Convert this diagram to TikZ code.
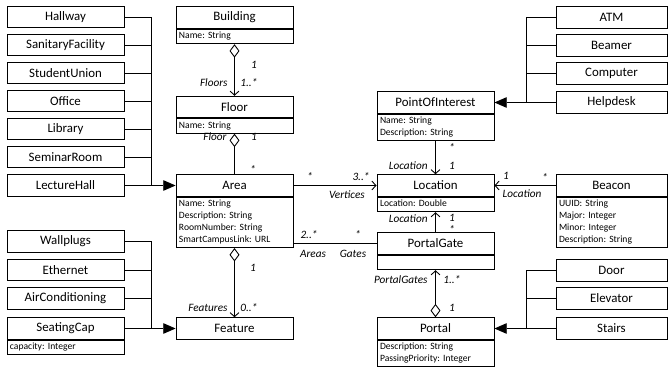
\documentclass[tikz,border=0pt]{standalone}
\usepackage{fontspec}
\setmainfont{Carlito}
\usetikzlibrary{positioning}
\usetikzlibrary{arrows.meta}
\frenchspacing

\begin{document}
\begin{tikzpicture}
  [x=0.03cm,y=-0.03cm,line width=0.75pt,
  cls/.style={draw,minimum width=3.51cm,minimum height=0.645cm,inner sep=0pt,font=\fontsize{11}{12}\selectfont},
  rcls/.style={cls,minimum width=3.33cm},
  attr/.style={draw,text width=#1,inner xsep=0.09cm,inner ysep=0.04cm,align=left,font=\fontsize{8.2}{10.2}\selectfont,execute at begin node=\strut,execute at end node=\strut},
  attr/.default=3.33cm,
  lbl/.style={font=\fontsize{9.6}{10}\selectfont\itshape,inner sep=0pt},
  gen/.style={-{Triangle[length=10.5pt,width=9pt]}},
  nav/.style={-{Straight Barb[length=3.5pt,width=7.5pt]}},
  agg/.style={{Diamond[open,length=11.5pt,width=8.5pt]}-},
  aggnav/.style={{Diamond[open,length=11.5pt,width=8.5pt]}-{Straight Barb[length=3.5pt,width=7.5pt]}}]
  \useasboundingbox (0,0) rectangle (669,369);

  \node[cls] (hallway) at (65.5,17) {Hallway};
  \node[cls] (sanitary) at (65.5,45) {SanitaryFacility};
  \node[cls] (studentunion) at (65.5,73) {StudentUnion};
  \node[cls] (office) at (65.5,101) {Office};
  \node[cls] (library) at (65.5,129) {Library};
  \node[cls] (seminar) at (65.5,157) {SeminarRoom};
  \node[cls] (lecture) at (65.5,185.5) {LectureHall};

  \node[cls] (wallplugs) at (65.5,241.5) {Wallplugs};
  \node[cls] (ethernet) at (65.5,270) {Ethernet};
  \node[cls] (aircon) at (65.5,298.5) {AirConditioning};
  \node[cls] (seating) at (65.5,328.5) {SeatingCap};
  \node[attr,below=0pt of seating] (seatingattr) {capacity: Integer};

  \node[cls] (building) at (234.5,17.5) {Building};
  \node[attr,below=0pt of building] (buildingattr) {Name: String};
  \node[cls] (floor) at (234.5,107) {Floor};
  \node[attr,below=0pt of floor] (floorattr) {Name: String};
  \node[cls] (area) at (234.5,185.5) {Area};
  \node[attr,below=0pt of area] (areaattr) {Name: String\\Description: String\\RoomNumber: String\\SmartCampusLink: URL};
  \node[cls] (feature) at (234.5,328.5) {Feature};

  \node[cls] (poi) at (435.5,102.5) {PointOfInterest};
  \node[attr,below=0pt of poi] (poiattr) {Name: String\\Description: String};
  \node[cls] (location) at (435.5,185.5) {Location};
  \node[attr,below=0pt of location] (locationattr) {Location: Double};
  \node[cls] (portalgate) at (435.5,243.5) {PortalGate};
  \node[attr,below=0pt of portalgate] (portalgateattr) {};
  \node[cls] (portal) at (435.5,328.5) {Portal};
  \node[attr,below=0pt of portal] (portalattr) {Description: String\\PassingPriority: Integer};

  \node[rcls] (atm) at (611.5,17.5) {ATM};
  \node[rcls] (beamer) at (611.5,45.5) {Beamer};
  \node[rcls] (computer) at (611.5,73.5) {Computer};
  \node[rcls] (helpdesk) at (611.5,102.5) {Helpdesk};
  \node[rcls] (beacon) at (611.5,185.5) {Beacon};
  \node[attr=3.15cm,below=0pt of beacon] (beaconattr) {UUID: String\\Major: Integer\\Minor: Integer\\Description: String};
  \node[rcls] (door) at (611.5,270.5) {Door};
  \node[rcls] (elevator) at (611.5,298.5) {Elevator};
  \node[rcls] (stairs) at (611.5,328.5) {Stairs};

  \coordinate (roombus) at (151,185.5);
  \coordinate (featurebus) at (151,328.5);
  \coordinate (poibus) at (526,102.5);
  \coordinate (portalbus) at (526,328.5);

  \draw (hallway.east) -| (roombus);
  \draw (sanitary.east) -| (roombus);
  \draw (studentunion.east) -| (roombus);
  \draw (office.east) -| (roombus);
  \draw (library.east) -| (roombus);
  \draw (seminar.east) -| (roombus);
  \draw (lecture.east) -- (roombus);
  \draw[gen] (roombus) -- (area.west);

  \draw (wallplugs.east) -| (featurebus);
  \draw (ethernet.east) -| (featurebus);
  \draw (aircon.east) -| (featurebus);
  \draw (seating.east) -- (featurebus);
  \draw[gen] (featurebus) -- (feature.west);

  \draw (atm.west) -| (poibus);
  \draw (beamer.west) -| (poibus);
  \draw (computer.west) -| (poibus);
  \draw (helpdesk.west) -- (poibus);
  \draw[gen] (poibus) -- (poi.east);

  \draw (door.west) -| (portalbus);
  \draw (elevator.west) -| (portalbus);
  \draw (stairs.west) -- (portalbus);
  \draw[gen] (portalbus) -- (portal.east);

  \draw[aggnav] (buildingattr.south) -- (floor.north);
  \draw[agg] (floorattr.south) -- (area.north);
  \draw[aggnav] (areaattr.south) -- (feature.north);
  \draw[nav] (area.east) -- (location.west);
  \draw (areaattr.east |- portalgate.west) -- (portalgate.west);
  \draw[nav] (poiattr.south) -- (location.north);
  \draw[nav] (portalgate.north) -- (locationattr.south);
  \draw[aggnav] (portal.north) -- (portalgateattr.south);
  \draw[nav] (beacon.west) -- (location.east);

  \node[lbl] (bfone) at (254,65) {1};
  \node[lbl,anchor=east] (bfrole) at (228,83) {Floors};
  \node[lbl,anchor=west] (bfmany) at (240,83) {1..*};
  \node[lbl,anchor=east] (farole) at (227,137) {Floor};
  \node[lbl] (faone) at (254,137) {1};
  \node[lbl] (famany) at (253,170) {*};
  \node[lbl] (afone) at (253,268) {1};
  \node[lbl,anchor=east] (afrole) at (228,308) {Features};
  \node[lbl,anchor=west] (afmany) at (240,308) {0..*};

  \node[lbl] (almany) at (310,177) {*};
  \node[lbl] (alvert) at (361,177) {3..*};
  \node[lbl] (alrole) at (347,195) {Vertices};
  \node[lbl] (agmany) at (309,235) {2..*};
  \node[lbl] (aggmany) at (358,235) {*};
  \node[lbl] (agareas) at (313,254) {Areas};
  \node[lbl] (aggates) at (353,254) {Gates};

  \node[lbl] (plmany) at (452,148) {*};
  \node[lbl,anchor=east] (plrole) at (428,166) {Location};
  \node[lbl] (plone) at (452,166) {1};
  \node[lbl,anchor=east] (glrole) at (428,219) {Location};
  \node[lbl] (glone) at (452,218) {1};
  \node[lbl] (glmany) at (452,230) {*};
  \node[lbl,anchor=east] (pgrole) at (428,280) {PortalGates};
  \node[lbl,anchor=west] (pgmany) at (443,280) {1..*};
  \node[lbl] (pgone) at (452,308) {1};

  \node[lbl] (blone) at (506,176) {1};
  \node[lbl] (blmany) at (545,178) {*};
  \node[lbl] (blrole) at (522,194) {Location};
\end{tikzpicture}
\end{document}
